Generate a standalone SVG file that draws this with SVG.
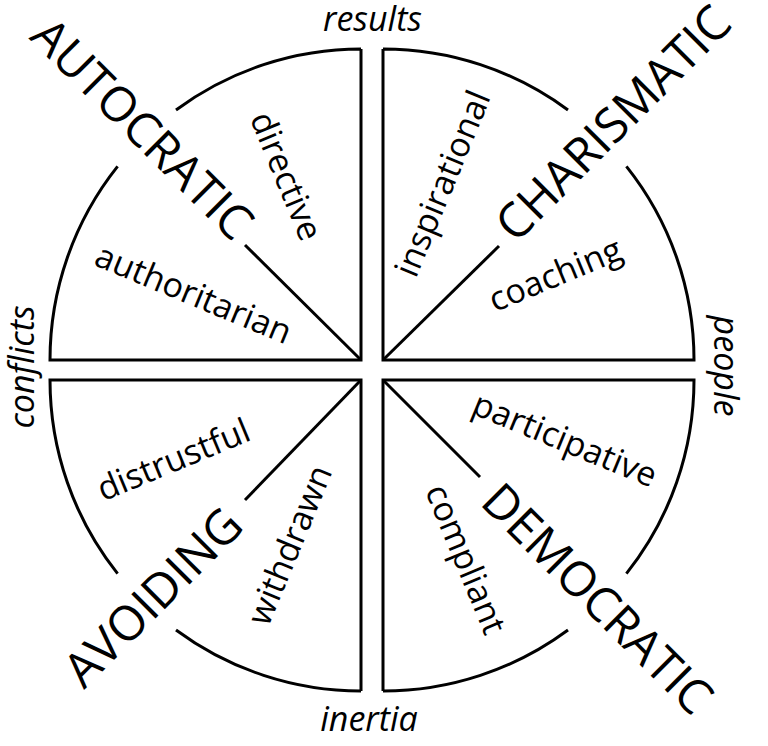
<svg xmlns="http://www.w3.org/2000/svg" width="768" height="746" viewBox="0 0 768 746">
<style>
.q{fill:none;stroke:#000;stroke-width:3;stroke-linejoin:miter}
.big{font-family:"Open Sans","Noto Sans",sans-serif;font-size:48px;fill:#000;text-anchor:middle}
.lbl{font-family:"Open Sans","Noto Sans",sans-serif;font-size:34px;fill:#000;text-anchor:middle}
.ax{font-family:"Open Sans","Noto Sans",sans-serif;font-size:34px;font-style:italic;fill:#000;text-anchor:middle}
</style>
<rect width="768" height="746" fill="#fff"/>
<g id="connectors">
<line class="q" x1="361" y1="360" x2="245" y2="245"/>
<line class="q" x1="383" y1="360" x2="499" y2="246"/>
<line class="q" x1="361" y1="380" x2="245" y2="500"/>
<line class="q" x1="383" y1="380" x2="480" y2="477"/>
</g>
<g id="autocratic">
<path class="q" d="M361,49 V360 H50 A311,311 0 0 1 117.6,166.4 M176,110 A311,311 0 0 1 361,49"/>
<text class="big" transform="translate(130.5,140.5) rotate(45)">AUTOCRATIC</text>
<text class="lbl" transform="translate(275.4,180.6) rotate(67.5)">directive</text>
<text class="lbl" transform="translate(189,304.5) rotate(22.5)">authoritarian</text>
</g>
<g id="charismatic">
<path class="q" d="M383,49 V360 H694 A311,311 0 0 0 626.4,166.4 M568,110 A311,311 0 0 0 383,49"/>
<text class="big" transform="translate(625,135) rotate(-45)">CHARISMATIC</text>
<text class="lbl" transform="translate(453.4,188) rotate(-67.5)">inspirational</text>
<text class="lbl" transform="translate(559.6,285.4) rotate(-22.5)">coaching</text>
</g>
<g id="avoiding">
<path class="q" d="M361,691 V380 H50 A311,311 0 0 0 117.6,573.6 M176,630 A311,311 0 0 0 361,691"/>
<text class="big" transform="translate(165,609) rotate(-45)">AVOIDING</text>
<text class="lbl" transform="translate(178,470.5) rotate(-22.5)">distrustful</text>
<text class="lbl" transform="translate(300.5,549.5) rotate(-67.5)">withdrawn</text>
</g>
<g id="democratic">
<path class="q" d="M383,691 V380 H694 A311,311 0 0 1 626.4,573.6 M568,630 A311,311 0 0 1 383,691"/>
<text class="big" transform="translate(585.5,610.5) rotate(45)">DEMOCRATIC</text>
<text class="lbl" transform="translate(560.4,450.4) rotate(22.5)">participative</text>
<text class="lbl" transform="translate(455,563.6) rotate(67.5)">compliant</text>
</g>
<g id="axes">
<text class="ax" x="372.5" y="31">results</text>
<text class="ax" x="369" y="731">inertia</text>
<text class="ax" transform="translate(34,367) rotate(-90)">conflicts</text>
<text class="ax" transform="translate(714,366) rotate(90)">people</text>
</g>
</svg>
